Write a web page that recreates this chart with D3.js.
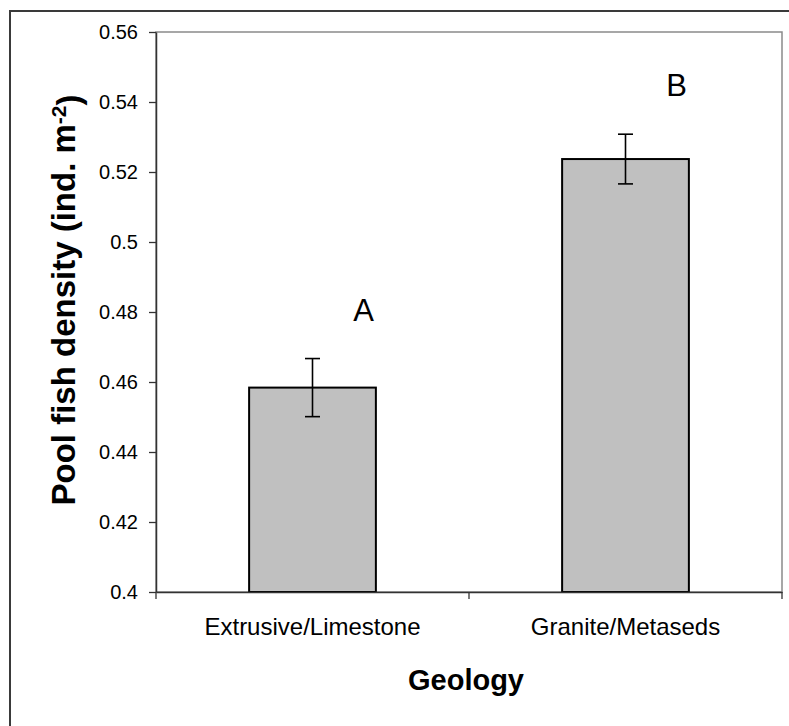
<!DOCTYPE html>
<html>
<head>
<meta charset="utf-8">
<script src="https://cdn.jsdelivr.net/npm/d3@7"></script>
<style>
  body { margin: 0; background: #fff; }
  text { font-family: "Liberation Sans", Arial, sans-serif; fill: #000; }
</style>
</head>
<body>
<div id="chart"></div>
<script>
// data
var categories = ['Extrusive/Limestone', 'Granite/Metaseds']
var means = [0.4584, 0.5237]
var errors = [0.0083, 0.0071]
var groupLetters = ['A', 'B']
var yTicks = [0.4, 0.42, 0.44, 0.46, 0.48, 0.5, 0.52, 0.54, 0.56]

var data = categories.map(function (c, i) {
    return { cat: c, mean: means[i], err: errors[i], letter: groupLetters[i] }
})

var width = 789,
    height = 726,
    margin = { top: 32, right: 7, bottom: 134, left: 156 };

var innerW = width - margin.left - margin.right,
    innerH = height - margin.top - margin.bottom;

var svg = d3.select('#chart')
    .append('svg')
    .attr('width', width)
    .attr('height', height);

// outer chart border (runs off the right / bottom of the picture)
svg.append('rect')
    .attr('x', 10)
    .attr('y', 11)
    .attr('width', 900)
    .attr('height', 900)
    .attr('fill', 'none')
    .attr('stroke', '#3a3a3a')
    .attr('stroke-width', 2);

var g = svg.append('g')
    .attr('transform', `translate(${margin.left},${margin.top})`);

var xScale = d3.scaleBand().domain(categories).range([0, innerW]).padding(0);
var yScale = d3.scaleLinear().domain([0.4, 0.56]).range([innerH, 0]);

// plot area frame
g.append('rect')
    .attr('x', 0)
    .attr('y', 0)
    .attr('width', innerW)
    .attr('height', innerH)
    .attr('fill', 'none')
    .attr('stroke', '#8a8a8a')
    .attr('stroke-width', 1.5);

var barW = xScale.bandwidth() * 0.405;

// bars
g.selectAll('.bar')
    .data(data)
    .enter().append('rect')
    .attr('class', 'bar')
    .attr('x', d => xScale(d.cat) + xScale.bandwidth() / 2 - barW / 2)
    .attr('y', d => yScale(d.mean))
    .attr('width', barW)
    .attr('height', d => innerH - yScale(d.mean))
    .attr('fill', '#c0c0c0')
    .attr('stroke', '#000')
    .attr('stroke-width', 2);

// error bars
var eb = g.selectAll('.err')
    .data(data)
    .enter().append('g')
    .attr('class', 'err')
    .attr('transform', d => `translate(${xScale(d.cat) + xScale.bandwidth() / 2},0)`)
    .attr('stroke', '#000')
    .attr('stroke-width', 1.6);

eb.append('line')
    .attr('x1', 0).attr('x2', 0)
    .attr('y1', d => yScale(d.mean + d.err))
    .attr('y2', d => yScale(d.mean - d.err));
eb.append('line')
    .attr('x1', -7.5).attr('x2', 7.5)
    .attr('y1', d => yScale(d.mean + d.err))
    .attr('y2', d => yScale(d.mean + d.err));
eb.append('line')
    .attr('x1', -7.5).attr('x2', 7.5)
    .attr('y1', d => yScale(d.mean - d.err))
    .attr('y2', d => yScale(d.mean - d.err));

// significance letters
g.selectAll('.letter')
    .data(data)
    .enter().append('text')
    .attr('class', 'letter')
    .attr('x', d => xScale(d.cat) + xScale.bandwidth() / 2 + 51)
    .attr('y', d => yScale(d.mean + d.err) - 38)
    .attr('text-anchor', 'middle')
    .style('font-size', '31px')
    .text(d => d.letter);

// Y axis
var yAxis = d3.axisLeft(yScale)
    .tickValues(yTicks)
    .tickFormat(d => String(+d.toFixed(2)))
    .tickSize(7)
    .tickSizeOuter(0)
    .tickPadding(11);

var yG = g.append('g').attr('class', 'y axis').call(yAxis);
yG.select('.domain').attr('stroke', '#333').attr('stroke-width', 1.5);
yG.selectAll('.tick line').attr('stroke', '#333').attr('stroke-width', 1.3);
yG.selectAll('text')
    .style('font-size', '20px')
    .attr('fill', '#000')
    .attr('dy', '0.33em');

// X axis
var xAxis = d3.axisBottom(xScale).tickSize(0).tickSizeOuter(0);
var xG = g.append('g')
    .attr('class', 'x axis')
    .attr('transform', `translate(0,${innerH})`)
    .call(xAxis);
xG.select('.domain').attr('stroke', '#333').attr('stroke-width', 1.5);
xG.selectAll('text')
    .style('font-size', '24px')
    .attr('fill', '#000')
    .attr('y', 43)
    .attr('dy', 0);

// category boundary ticks (Excel style, between categories)
var bounds = categories.map(c => xScale(c)).concat([innerW]);
xG.selectAll('.bound')
    .data(bounds)
    .enter().append('line')
    .attr('class', 'bound')
    .attr('x1', d => d).attr('x2', d => d)
    .attr('y1', 0).attr('y2', 7)
    .attr('stroke', '#333')
    .attr('stroke-width', 1.3);

// axis titles
svg.append('text')
    .attr('x', margin.left + innerW / 2 - 3)
    .attr('y', 690)
    .attr('text-anchor', 'middle')
    .style('font-size', '29px')
    .style('font-weight', 'bold')
    .text('Geology');

var yTitle = svg.append('text')
    .attr('transform', 'translate(75,300) rotate(-90)')
    .attr('text-anchor', 'middle')
    .style('font-size', '33px')
    .style('font-weight', 'bold');
yTitle.append('tspan').text('Pool fish density (ind. m');
yTitle.append('tspan').attr('dy', '-0.45em').style('font-size', '21px').text('-2');
yTitle.append('tspan').attr('dy', '0.45em').text(')');
</script>
</body>
</html>
